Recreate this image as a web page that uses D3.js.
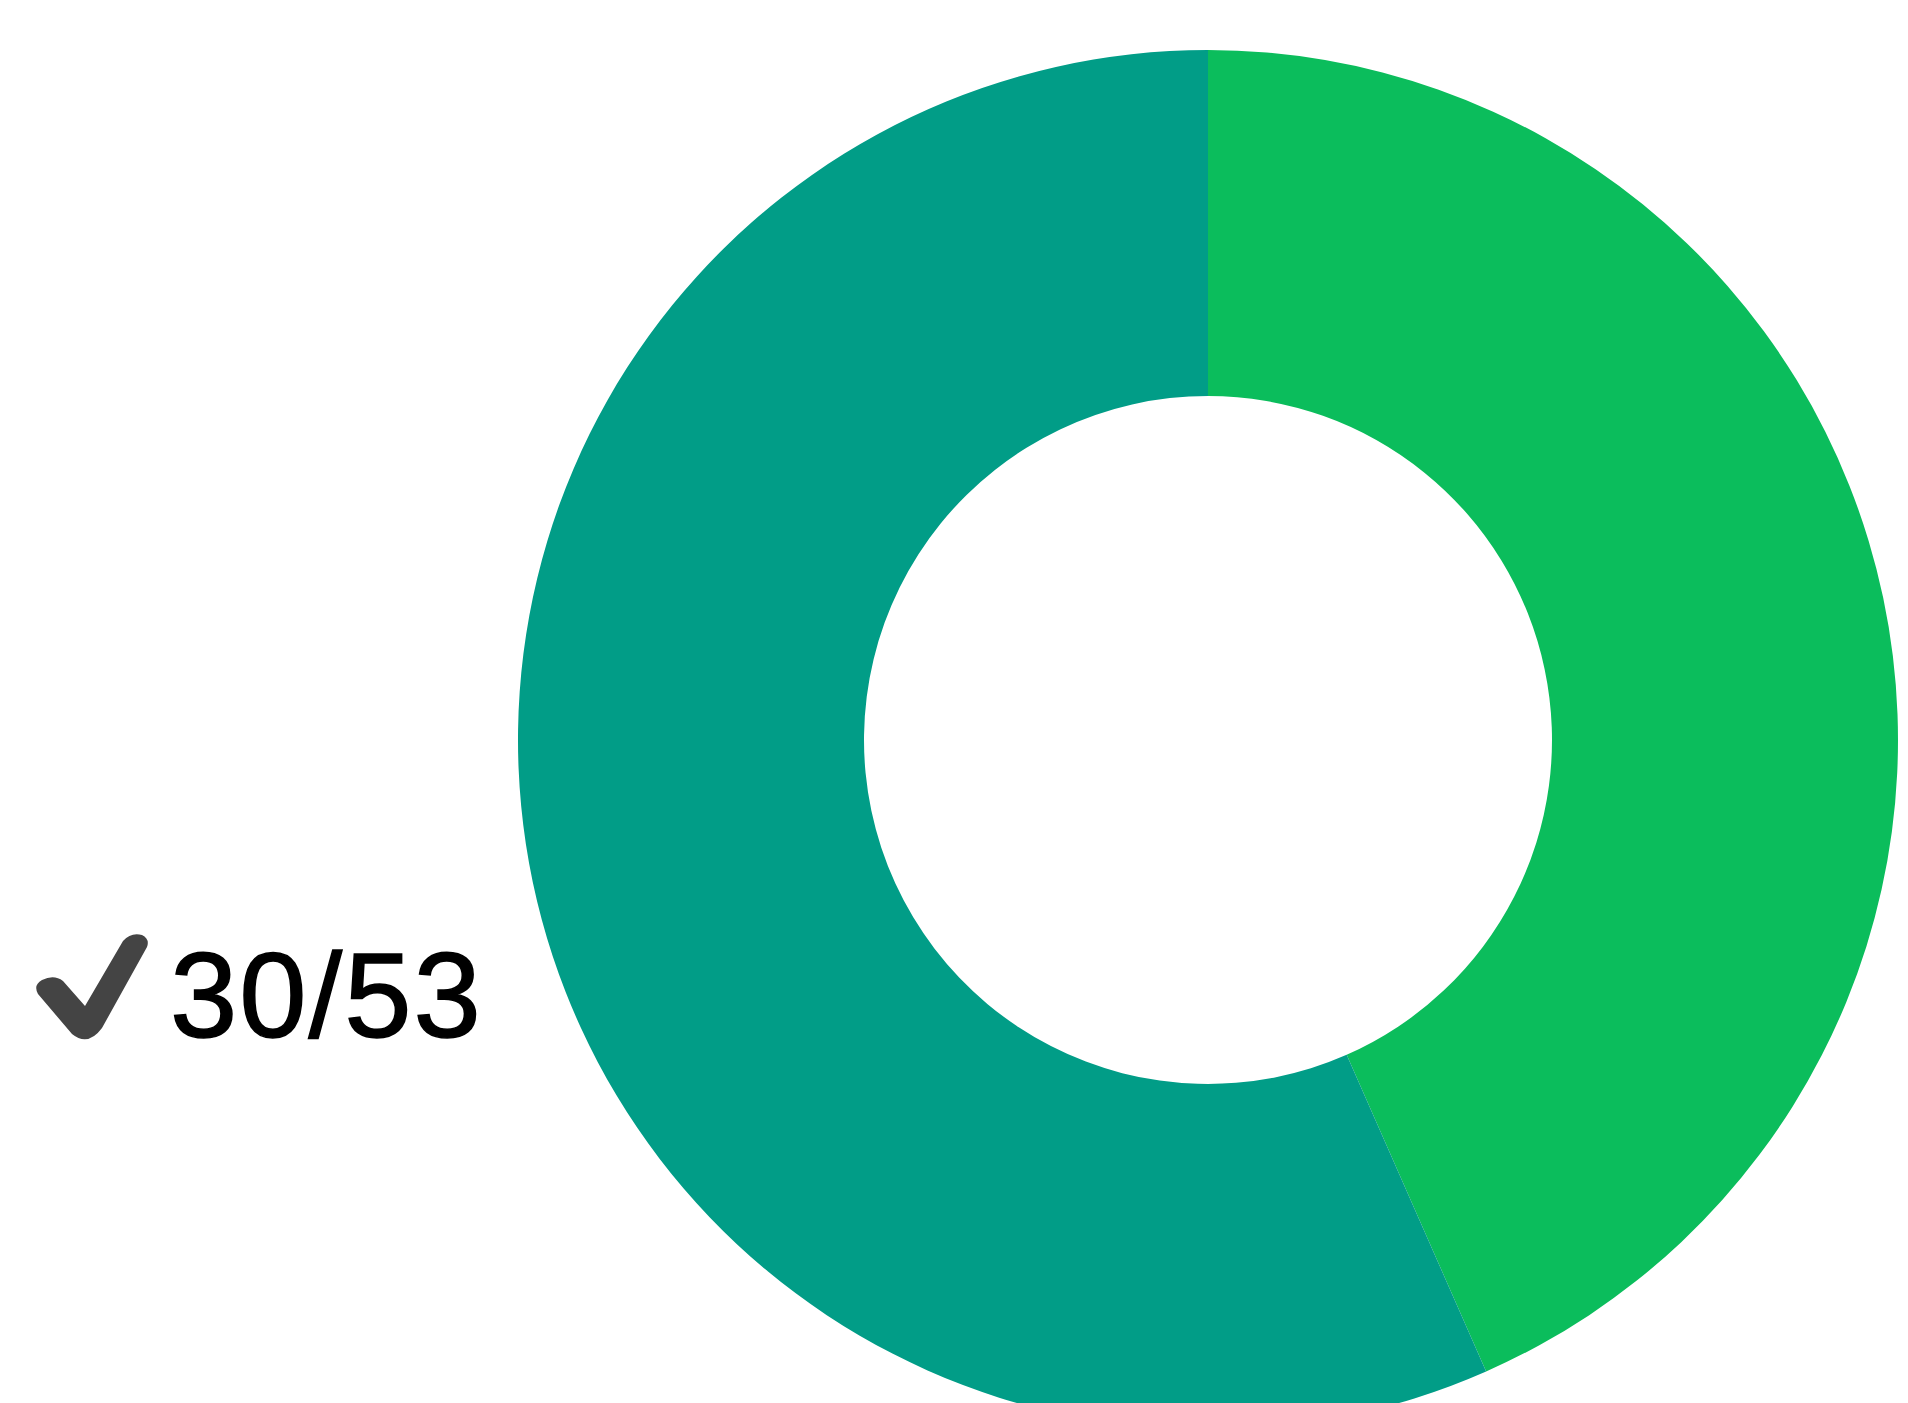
<!DOCTYPE html>
<html>
<head>
<meta charset="utf-8">
<script src="https://cdn.jsdelivr.net/npm/d3@7"></script>
<style>
  html, body { margin: 0; padding: 0; background: #fff; overflow: hidden; }
</style>
</head>
<body>
<script>
// slices, clockwise from 12 o'clock
const categories = ['wrong', 'correct'];
const values = [23, 30];
const colors = ['#0bbd5c', '#019d87'];
const labelText = '30/53';

const W = 1908, H = 1403;
const cx = 1208, cy = 740;
const outerR = 690, innerR = 344;

const svg = d3.select('body').append('svg')
    .attr('width', W).attr('height', H);

const pie = d3.pie().sort(null).value(d => d.value);
const arc = d3.arc().innerRadius(innerR).outerRadius(outerR);
const data = categories.map((c, i) => ({ name: c, value: values[i], color: colors[i] }));

svg.append('g')
    .attr('transform', `translate(${cx},${cy})`)
    .selectAll('path')
    .data(pie(data))
    .enter()
    .append('path')
      .attr('d', arc)
      .attr('fill', d => d.data.color);

// check mark icon (tapered swoosh)
const label = svg.append('g');
label.append('path')
    .attr('d', 'M42,980 Q54,974 63,981 L85,1006 L123,941 Q131,932 142,935 Q150,939 147,947 L102,1028 Q88,1047 72,1034 L38,994 Q33,985 42,980 Z')
    .attr('fill', '#444');
label.append('text')
    .attr('x', 170)
    .attr('y', 1037)
    .attr('font-family', 'Liberation Sans, Arial, sans-serif')
    .attr('font-size', 121)
    .attr('letter-spacing', 2)
    .attr('fill', '#000')
    .attr('stroke', '#000')
    .attr('stroke-width', 1.5)
    .text(labelText);
</script>
</body>
</html>
